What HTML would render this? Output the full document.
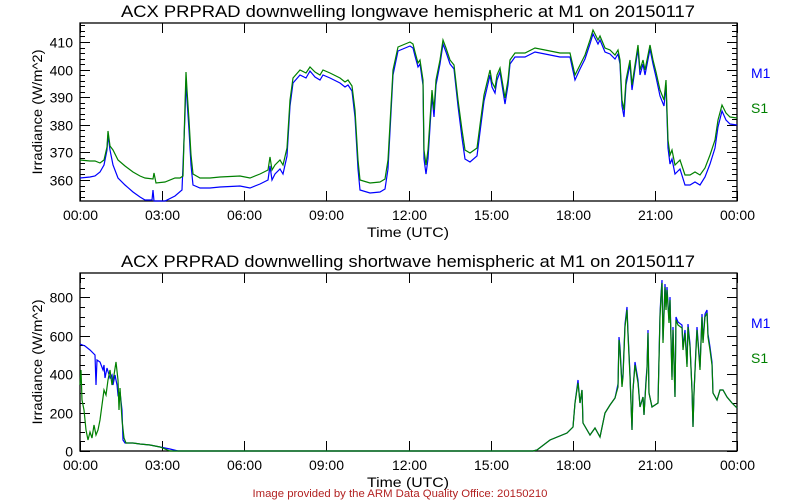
<!DOCTYPE html>
<html><head><meta charset="utf-8"><style>
html,body{margin:0;padding:0;background:#fff;}
svg{display:block;}
text{font-family:"Liberation Sans",sans-serif;}
</style></head><body>
<svg id="s" width="800" height="500" xmlns="http://www.w3.org/2000/svg">
<rect width="800" height="500" fill="#fff"/>
<text x="408" y="17" font-size="17" text-anchor="middle" textLength="574" lengthAdjust="spacingAndGlyphs">ACX PRPRAD downwelling longwave hemispheric at M1 on 20150117</text>
<text x="408" y="267" font-size="17" text-anchor="middle" textLength="574" lengthAdjust="spacingAndGlyphs">ACX PRPRAD downwelling shortwave hemispheric at M1 on 20150117</text>
<text x="408" y="237" font-size="14" text-anchor="middle" textLength="82" lengthAdjust="spacingAndGlyphs">Time (UTC)</text>
<text x="408" y="487" font-size="14" text-anchor="middle" textLength="82" lengthAdjust="spacingAndGlyphs">Time (UTC)</text>
<text transform="translate(42,112) rotate(-90)" font-size="14" text-anchor="middle" textLength="125" lengthAdjust="spacingAndGlyphs">Irradiance (W/m^2)</text>
<text transform="translate(42,362) rotate(-90)" font-size="14" text-anchor="middle" textLength="125" lengthAdjust="spacingAndGlyphs">Irradiance (W/m^2)</text>
<text x="751" y="78" font-size="14" fill="#0000ff">M1</text>
<text x="751" y="113" font-size="14" fill="#008000">S1</text>
<text x="751" y="328" font-size="14" fill="#0000ff">M1</text>
<text x="751" y="363" font-size="14" fill="#008000">S1</text>
<text x="400" y="497" font-size="11" fill="#b22222" text-anchor="middle" textLength="295" lengthAdjust="spacingAndGlyphs">Image provided by the ARM Data Quality Office: 20150210</text>
<g id="g"></g>
</svg>
<script>
var g=document.getElementById('g'),h='';
var X0=80,X1=737,W=X1-X0;
function line(x1,y1,x2,y2){h+='<line x1="'+x1+'" y1="'+y1+'" x2="'+x2+'" y2="'+y2+'" stroke="#000" stroke-width="1"/>';}
function txt(x,y,t,a){h+='<text x="'+x+'" y="'+y+'" font-size="14" text-anchor="'+a+'">'+t+'</text>';}
function axes(T,B,ymap,vmin,vmax,minor,major,labStep){
 h+='<rect x="'+X0+'" y="'+T+'" width="'+W+'" height="'+(B-T)+'" fill="none" stroke="#000" stroke-width="1.3"/>';
 for(var v=Math.ceil(vmin/minor)*minor;v<=vmax;v+=minor){
  var y=Math.round(ymap(v))+0.5; if(y<T-1||y>B+1)continue; var L=(v%major==0)?10:5;
  line(X0,y,X0+L,y);line(X1-L,y,X1,y);
  if(v%labStep==0) txt(73,y+5,v,'end');
 }
 var labs=['00:00','03:00','06:00','09:00','12:00','15:00','18:00','21:00','00:00'];
 for(var i=0;i<=8;i++){var x=Math.round(X0+W*i/8)+0.5;line(x,B,x,B-10);line(x,T,x,T+10);txt(x,B+19,labs[i],'middle');}
}
var ym1=function(v){return 180-(v-360)*2.76;};
axes(23,201,ym1,353,416,2,10,10);
var ym2=function(v){return 451-v*0.192;};
axes(273,451,ym2,0,915,50,200,200);
function poly(p,c,clipT,clipB){var s='';for(var i=0;i<p.length;i+=2){var y=Math.max(clipT,Math.min(clipB,p[i+1]));s+=p[i]+','+y+' ';}
 h+='<polyline points="'+s+'" fill="none" stroke="'+c+'" stroke-width="1.2"/>';}
var G=[80,160,90,161,95,161,100,163,104,160,107,147,108,131,110,146,113,150,118,160,125,166,133,172,140,176,145,178,153,179,154,173,156,183,165,182,175,178,180,178,183,176,185,105,186,72,187,90,189,120,191,155,193,174,200,178,210,178,220,177,240,176,250,178,260,174,268,170,270,157,272,170,275,165,280,160,283,165,287,148,290,100,293,78,300,70,306,73,310,67,315,72,320,75,323,70,330,73,340,78,345,82,348,80,352,86,355,110,358,160,360,180,370,183,380,182,385,179,388,160,393,70,398,47,410,42,413,44,415,52,418,63,420,60,423,80,424,150,426,165,428,150,430,120,432,90,434,110,436,80,440,60,443,40,446,48,450,60,454,65,458,100,462,130,465,150,470,153,477,148,480,125,484,95,490,70,492,82,495,88,497,75,500,68,505,98,508,80,510,60,515,53,525,53,535,48,545,50,560,53,570,53,575,75,580,65,585,55,590,40,593,30,598,40,600,36,605,48,610,50,615,55,618,50,620,60,622,100,624,110,626,80,630,60,632,85,635,65,638,45,640,70,643,60,645,70,650,45,653,60,656,72,660,90,664,100,666,80,668,140,670,155,672,150,675,165,680,160,685,175,690,175,695,172,700,175,705,168,710,155,715,140,718,120,722,105,726,113,730,117,737,118];
var B1=[80,178,90,177,95,176,100,172,104,165,107,150,108,135,110,150,113,165,118,178,125,185,133,192,140,197,145,200,152,200,153,190,154,201,165,201,175,196,182,190,185,115,186,80,187,100,189,130,191,165,193,185];
for(var i=0;i<G.length;i+=2){if(G[i]>=200){var y=G[i+1];var off=4+Math.max(0,(y-60))/120*6;B1.push(G[i],Math.round(y+off));}}
poly(B1,'#0000ff',23,201);
poly(G,'#008000',23,201);
var G2=[80,385,81,370,82,400,84,410,86,430,88,440,90,432,92,438,94,425,96,435,98,430,100,420,102,405,104,390,106,395,108,380,110,370,112,385,114,375,116,362,118,380,119,410,120,388,122,420,124,438,126,443,133,443,140,444,150,445,160,447,170,451,533,451,537,450,550,440,567,433,573,427,575,403,578,383,580,403,582,390,583,423,590,435,595,428,600,437,605,413,610,405,615,398,618,387,619,340,620,350,622,387,623,377,625,327,627,310,628,335,630,377,632,430,633,390,635,365,638,383,640,407,643,397,644,415,646,383,647,370,648,333,649,393,652,407,655,405,658,403,660,317,661,297,662,283,663,343,665,287,666,310,667,290,669,323,670,300,672,380,673,330,675,397,676,320,678,325,682,328,683,350,685,333,687,367,688,327,690,347,692,390,693,427,694,393,696,350,697,330,698,343,700,370,702,317,703,343,705,317,707,313,708,337,710,350,712,365,713,393,717,400,720,390,723,390,727,397,732,403,737,408];
var B2=[80,344,85,346,90,350,95,355,96,385,97,360,100,362,103,370,104,365,105,378,107,368,110,378,112,375,113,385,115,375,117,385,118,395,120,392,122,410,123,440,125,443,133,443,140,444,150,445,160,447,170,449,178,451];
for(var i=0;i<G2.length;i+=2){if(G2[i]>=530){var y=G2[i+1];B2.push(G2[i],y<390?y-3:y);}}
poly(B2,'#0000ff',273,451);
poly(G2,'#008000',273,451);
g.innerHTML=h;
</script>
</body></html>
